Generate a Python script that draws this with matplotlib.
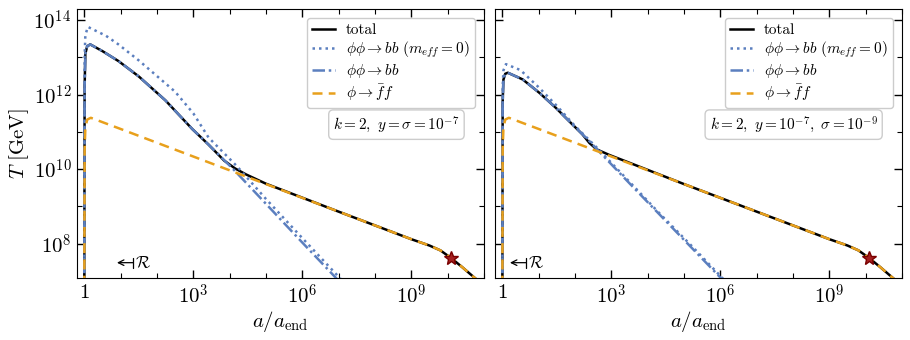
import numpy as np
import matplotlib
matplotlib.use("Agg")
import matplotlib.pyplot as plt
from matplotlib.ticker import FixedLocator, NullFormatter

plt.rcParams["font.family"] = "serif"
plt.rcParams["font.serif"] = ["cmr10"]
plt.rcParams["mathtext.fontset"] = "cm"
plt.rcParams["axes.formatter.use_mathtext"] = True

BLUE = "#5b7fbf"
ORANGE = "#e8a01c"

# ---- data (log10 a/a_end, log10 T/GeV) ----
# phi -> f fbar (same in both panels)
loga_ff = [0.0, 0.01, 0.03, 0.08, 0.18, 1.0, 3.0, 5.0, 7.0, 9.0, 9.5, 9.8, 10.1, 10.4, 10.77, 11.1]
logT_ff = [6.0, 10.5, 11.1, 11.33, 11.38, 11.08, 10.34, 9.60, 8.86, 8.12, 7.95, 7.82, 7.61, 7.37, 7.06, 6.6]

# left panel: y = sigma = 1e-7
loga_bb_L = [0.0, 0.01, 0.03, 0.08, 0.165, 0.5, 0.945, 1.5, 2.23, 2.97, 3.42, 4.11, 5.0, 6.0, 7.2]
logT_bb_L = [6.0, 12.2, 13.1, 13.3, 13.35, 13.17, 12.9, 12.49, 11.85, 11.08, 10.66, 9.99, 9.07, 8.03, 6.8]
loga_bb0_L = [0.0, 0.01, 0.03, 0.1, 0.6, 0.94, 1.5, 2.5, 3.0, 3.42, 4.2, 5.0, 6.0, 7.3]
logT_bb0_L = [6.0, 13.0, 13.6, 13.82, 13.58, 13.35, 12.92, 12.08, 11.5, 10.85, 10.08, 9.2, 8.15, 6.8]
loga_tot_L = [0.0, 0.01, 0.03, 0.08, 0.165, 0.5, 0.945, 1.5, 2.23, 2.97, 3.42, 3.85, 4.15, 4.45,
              5.0, 7.0, 9.0, 9.5, 9.8, 10.1, 10.4, 10.77, 11.1]
logT_tot_L = [6.0, 12.2, 13.1, 13.3, 13.35, 13.17, 12.9, 12.49, 11.85, 11.08, 10.66, 10.23, 10.02, 9.86,
              9.61, 8.86, 8.12, 7.95, 7.82, 7.61, 7.37, 7.06, 6.6]

# right panel: y = 1e-7, sigma = 1e-9
loga_bb_R = [0.0, 0.01, 0.03, 0.08, 0.15, 0.56, 1.02, 1.47, 1.93, 2.40, 2.58, 3.5, 4.32, 5.2, 6.2]
logT_bb_R = [6.0, 11.8, 12.4, 12.56, 12.59, 12.41, 12.05, 11.65, 11.2, 10.75, 10.56, 9.62, 8.79, 7.9, 6.89]
loga_bb0_R = [0.0, 0.01, 0.03, 0.1, 0.5, 1.0, 1.5, 2.0, 2.58, 3.5, 4.32, 5.2, 6.2]
logT_bb0_R = [6.0, 12.2, 12.65, 12.82, 12.66, 12.2, 11.7, 11.16, 10.6, 9.66, 8.82, 7.95, 6.93]
loga_tot_R = [0.0, 0.01, 0.03, 0.08, 0.15, 0.56, 1.02, 1.47, 1.93, 2.2, 2.4, 2.6, 2.95, 3.4,
              5.0, 7.0, 9.0, 9.5, 9.8, 10.1, 10.4, 10.77, 11.1]
logT_tot_R = [6.0, 11.8, 12.4, 12.56, 12.59, 12.41, 12.05, 11.65, 11.2, 10.94, 10.7, 10.53, 10.38, 10.21,
              9.60, 8.86, 8.12, 7.95, 7.82, 7.61, 7.37, 7.06, 6.6]

# end of reheating (star) and a_R marker
star_loga = [10.1, 10.1]
star_logT = [7.62, 7.62]
aR_loga = [1.35, 0.66]
params = [r"$k=2,\ y=\sigma=10^{-7}$", r"$k=2,\ y=10^{-7},\ \sigma=10^{-9}$"]

panels = [
    (loga_tot_L, logT_tot_L, loga_bb0_L, logT_bb0_L, loga_bb_L, logT_bb_L),
    (loga_tot_R, logT_tot_R, loga_bb0_R, logT_bb0_R, loga_bb_R, logT_bb_R),
]

fig = plt.figure(figsize=(9.1, 3.4), dpi=100)
axes = [fig.add_axes([0.0846, 0.1824, 0.4473, 0.7912]),
        fig.add_axes([0.5440, 0.1824, 0.4473, 0.7912])]

for i, ax in enumerate(axes):
    la_t, lt_t, la_0, lt_0, la_b, lt_b = panels[i]
    p = lambda v: 10.0 ** np.array(v)
    ax.plot(p(la_t), p(lt_t), color="k", lw=1.8, label="total", zorder=2)
    ax.plot(p(la_0), p(lt_0), color=BLUE, lw=1.8, ls=(0, (1, 1.6)),
            label=r"$\phi\phi\rightarrow bb\ (m_{eff}=0)$", zorder=3)
    ax.plot(p(la_b), p(lt_b), color=BLUE, lw=1.8, ls=(0, (5, 1.5, 1, 1.5)),
            label=r"$\phi\phi\rightarrow bb$", zorder=3)
    ax.plot(p(loga_ff), p(logT_ff), color=ORANGE, lw=1.8, ls=(0, (4, 2.5)),
            label=r"$\phi\rightarrow\bar{f}f$", zorder=3)
    ax.plot(10.0 ** star_loga[i], 10.0 ** star_logT[i], marker="*", ms=10,
            mfc="#a52020", mec="#7a0000", mew=1.0, ls="none", zorder=5)

    ax.set_xscale("log")
    ax.set_yscale("log")
    ax.set_xlim(10 ** -0.2, 1e11)
    ax.set_ylim(1.2e7, 2e14)

    ax.xaxis.set_major_locator(FixedLocator([1, 1e3, 1e6, 1e9]))
    ax.set_xticklabels(["$1$", "$10^{3}$", "$10^{6}$", "$10^{9}$"])
    ax.xaxis.set_minor_locator(FixedLocator([10.0 ** k for k in range(0, 12)]))
    ax.xaxis.set_minor_formatter(NullFormatter())
    ax.yaxis.set_major_locator(FixedLocator([1e8, 1e10, 1e12, 1e14]))
    ax.yaxis.set_minor_locator(FixedLocator([10.0 ** k for k in range(7, 15)]))
    ax.yaxis.set_minor_formatter(NullFormatter())
    if i == 0:
        ax.set_yticklabels(["$10^{8}$", "$10^{10}$", "$10^{12}$", "$10^{14}$"])
        ax.set_ylabel(r"$T\ [\mathrm{GeV}]$", fontsize=15, labelpad=2)
    else:
        ax.set_yticklabels([])
    ax.tick_params(which="both", direction="in", top=True, right=True, labelsize=15, pad=4)
    ax.tick_params(which="major", length=6, width=1)
    ax.tick_params(which="minor", length=3.5, width=0.8)
    ax.set_xlabel(r"$a/a_{\rm end}$", fontsize=15, labelpad=1)

    leg = ax.legend(loc="upper right", fontsize=11, handlelength=1.5, labelspacing=0.15,
                    borderpad=0.35, handletextpad=0.7, framealpha=1, fancybox=True,
                    borderaxespad=0.6)
    leg.get_frame().set_edgecolor("#cccccc")

    ax.text(0.94, 0.57, params[i], transform=ax.transAxes, fontsize=11, ha="right", va="center",
            bbox=dict(boxstyle="round,pad=0.3", fc="white", ec="#cccccc"))

    # a_R marker
    ax.annotate("", xy=(10.0 ** (aR_loga[i] - 0.45), 10 ** 7.49), xytext=(10.0 ** aR_loga[i], 10 ** 7.49),
                arrowprops=dict(arrowstyle="]->, widthA=0.35, lengthA=0", lw=0.9, color="k",
                                shrinkA=0, shrinkB=0))
    ax.text(10.0 ** (aR_loga[i] + 0.04), 10 ** 7.49, r"$\mathcal{R}$", fontsize=12, va="center", ha="left")

fig.savefig("out.png", dpi=100)
